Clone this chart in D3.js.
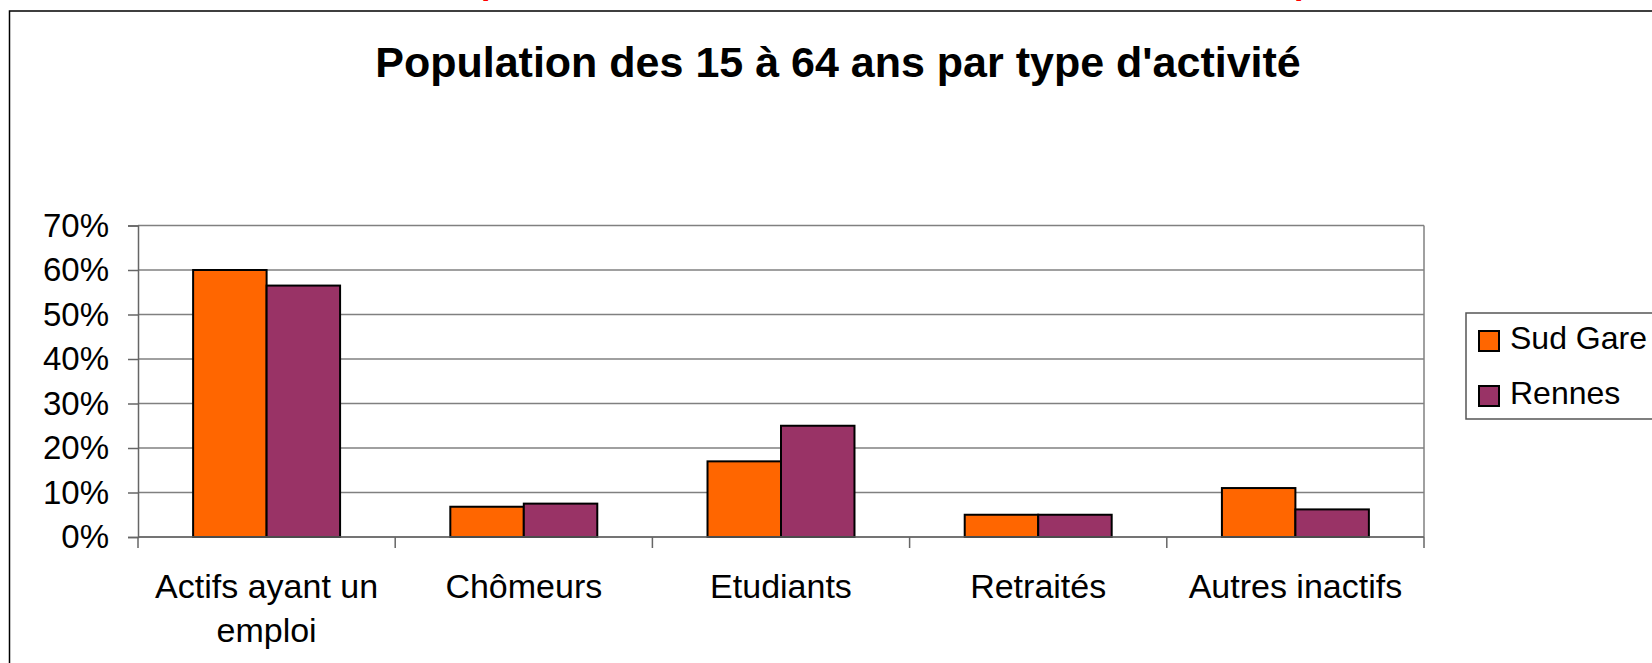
<!DOCTYPE html>
<html>
<head>
<meta charset="utf-8">
<script src="https://cdn.jsdelivr.net/npm/d3@7"></script>
<style>
  body { margin: 0; background: #fff; overflow: hidden; }
  text { font-family: "Liberation Sans", Arial, sans-serif; }
</style>
</head>
<body>
<svg id="chart" width="1652" height="663"></svg>
<script>
// data
const categories = ["Actifs ayant un emploi", "Chômeurs", "Etudiants", "Retraités", "Autres inactifs"];
const seriesNames = ["Sud Gare", "Rennes"];
const sudGare = [0.60, 0.068, 0.17, 0.05, 0.11];
const rennes = [0.565, 0.075, 0.25, 0.05, 0.062];
const yTicks = [0, 0.1, 0.2, 0.3, 0.4, 0.5, 0.6, 0.7];
const colors = ["#FF6600", "#993366"];

function drawChart() {
    const svg = d3.select("#chart");

    const plot = { left: 138, right: 1424, top: 225.5, bottom: 537 };

    // outer chart frame (extends past the window like the original)
    svg.append("rect")
        .attr("x", 9.5)
        .attr("y", 11)
        .attr("width", 1700)
        .attr("height", 700)
        .attr("fill", "none")
        .attr("stroke", "#000")
        .attr("stroke-width", 1.5);

    // red text above the frame, cut by the top edge as in the original
    svg.selectAll(".cut")
        .data([481, 1294])
        .join("text")
        .attr("x", d => d)
        .attr("y", -6)
        .attr("fill", "#ff0000")
        .style("font-size", "34px")
        .style("font-weight", "bold")
        .text("p");

    svg.append("text")
        .attr("x", 838)
        .attr("y", 77)
        .attr("text-anchor", "middle")
        .style("font-size", "43px")
        .style("font-weight", "bold")
        .text("Population des 15 à 64 ans par type d'activité");

    const x0 = d3.scaleBand()
        .domain(categories)
        .range([plot.left, plot.right]);

    const x1 = d3.scaleBand()
        .domain(seriesNames)
        .range([0, x0.bandwidth()])
        .paddingInner(0)
        .paddingOuter(0.75);

    const y = d3.scaleLinear()
        .domain([0, 0.7])
        .range([plot.bottom, plot.top]);

    // gridlines
    svg.append("g")
        .selectAll("line")
        .data(yTicks)
        .join("line")
        .attr("x1", plot.left)
        .attr("x2", plot.right)
        .attr("y1", d => y(d))
        .attr("y2", d => y(d))
        .attr("stroke", "#808080")
        .attr("stroke-width", 1.5);

    // plot area border (right side)
    svg.append("line")
        .attr("x1", plot.right)
        .attr("x2", plot.right)
        .attr("y1", plot.top)
        .attr("y2", plot.bottom)
        .attr("stroke", "#808080")
        .attr("stroke-width", 1.5);

    // y axis
    const yAxis = svg.append("g")
        .attr("transform", `translate(${plot.left},0)`)
        .call(d3.axisLeft(y)
            .tickValues(yTicks)
            .tickFormat(d3.format(".0%"))
            .tickSize(10)
            .tickPadding(19));
    yAxis.select(".domain").attr("stroke", "#666").attr("stroke-width", 1.5);
    yAxis.selectAll(".tick line").attr("stroke", "#666").attr("stroke-width", 1.5);
    yAxis.selectAll(".tick text")
        .attr("fill", "#000")
        .style("font-size", "33px")
        .style("font-family", "'Liberation Sans', Arial, sans-serif");

    // bars
    const rows = categories.map((c, i) => ({ cat: c, values: [sudGare[i], rennes[i]] }));
    svg.append("g")
        .selectAll("g")
        .data(rows)
        .join("g")
        .attr("transform", d => `translate(${x0(d.cat)},0)`)
        .selectAll("rect")
        .data(d => d.values.map((v, j) => ({ name: seriesNames[j], value: v, j })))
        .join("rect")
        .attr("x", d => x1(d.name))
        .attr("y", d => y(d.value))
        .attr("width", x1.bandwidth())
        .attr("height", d => y(0) - y(d.value))
        .attr("fill", d => colors[d.j])
        .attr("stroke", "#000")
        .attr("stroke-width", 2);

    // x axis line and category boundary ticks
    svg.append("line")
        .attr("x1", plot.left)
        .attr("x2", plot.right)
        .attr("y1", plot.bottom)
        .attr("y2", plot.bottom)
        .attr("stroke", "#666")
        .attr("stroke-width", 1.5);

    const bounds = categories.map(c => x0(c)).concat([x0(categories[categories.length - 1]) + x0.bandwidth()]);
    svg.append("g")
        .selectAll("line")
        .data(bounds)
        .join("line")
        .attr("x1", d => d)
        .attr("x2", d => d)
        .attr("y1", plot.bottom)
        .attr("y2", plot.bottom + 11)
        .attr("stroke", "#666")
        .attr("stroke-width", 1.5);

    // category labels, wrapped to the band width
    const labels = svg.append("g")
        .selectAll("text")
        .data(categories)
        .join("text")
        .attr("x", d => x0(d) + x0.bandwidth() / 2)
        .attr("y", 598)
        .attr("text-anchor", "middle")
        .style("font-size", "34px");

    labels.each(function(d) {
        const el = d3.select(this);
        const cx = x0(d) + x0.bandwidth() / 2;
        const maxW = x0.bandwidth() - 10;
        let line = [];
        let tspan = el.append("tspan").attr("x", cx).attr("dy", 0);
        d.split(" ").forEach(w => {
            line.push(w);
            tspan.text(line.join(" "));
            if (tspan.node().getComputedTextLength() > maxW && line.length > 1) {
                line.pop();
                tspan.text(line.join(" "));
                line = [w];
                tspan = el.append("tspan")
                    .attr("x", cx)
                    .attr("dy", 44)
                    .text(w);
            }
        });
    });

    // legend
    const legend = svg.append("g");
    legend.append("rect")
        .attr("x", 1466)
        .attr("y", 313)
        .attr("width", 220)
        .attr("height", 106)
        .attr("fill", "#fff")
        .attr("stroke", "#555")
        .attr("stroke-width", 1.5);

    const items = legend.selectAll("g")
        .data(seriesNames)
        .join("g")
        .attr("transform", (d, i) => `translate(1479,${331 + i * 55})`);

    items.append("rect")
        .attr("width", 20)
        .attr("height", 20)
        .attr("fill", (d, i) => colors[i])
        .attr("stroke", "#000")
        .attr("stroke-width", 2);

    items.append("text")
        .attr("x", 31)
        .attr("y", 18)
        .style("font-size", "32px")
        .text(d => d);
}

drawChart();
</script>
</body>
</html>
